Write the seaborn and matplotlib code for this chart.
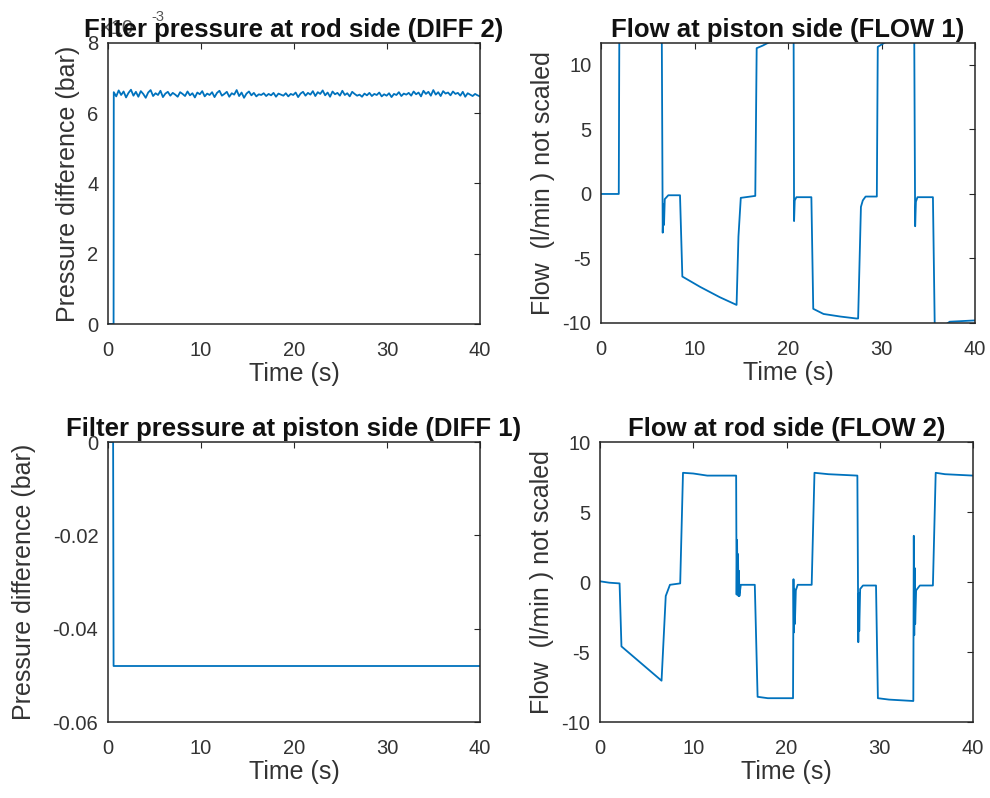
import numpy as np
import pandas as pd
import matplotlib
matplotlib.use("Agg")
import matplotlib.pyplot as plt
import seaborn as sns

# ---------------- data ----------------
# DIFF 2 : filter pressure at rod side (bar)
diff2_step_time = [0.0, 0.6]
diff2_step = [0.0, 0.0]
diff2_noise_e3 = [  # plateau values, in units of 1e-3 bar
    6.60, 6.48, 6.65, 6.52, 6.62, 6.45, 6.58, 6.67, 6.50, 6.61, 6.47, 6.63, 6.55, 6.44, 6.59,
    6.66, 6.49, 6.57, 6.52, 6.64, 6.46, 6.56, 6.61, 6.50, 6.58, 6.53, 6.47, 6.60, 6.55, 6.49,
    6.62, 6.51, 6.57, 6.45, 6.59, 6.54, 6.63, 6.48, 6.56, 6.52, 6.60, 6.46, 6.58, 6.64, 6.50,
    6.55, 6.61, 6.47, 6.57, 6.53, 6.66, 6.49, 6.59, 6.44, 6.56, 6.62, 6.51, 6.58, 6.48, 6.54,
    6.52, 6.57, 6.49, 6.55, 6.51, 6.58, 6.47, 6.56, 6.53, 6.50, 6.57, 6.48, 6.55, 6.52, 6.59,
    6.46, 6.56, 6.61, 6.50, 6.58, 6.53, 6.63, 6.49, 6.60, 6.55, 6.65, 6.51, 6.59, 6.47, 6.62,
    6.54, 6.58, 6.50, 6.64, 6.52, 6.57, 6.48, 6.61, 6.55, 6.50, 6.53, 6.47, 6.56, 6.51, 6.58,
    6.49, 6.55, 6.52, 6.59, 6.48, 6.54, 6.50, 6.57, 6.46, 6.55, 6.52, 6.60, 6.49, 6.56, 6.53,
    6.58, 6.50, 6.62, 6.54, 6.59, 6.48, 6.64, 6.55, 6.61, 6.50, 6.66, 6.53, 6.60, 6.49, 6.63,
    6.56, 6.59, 6.51, 6.62, 6.55, 6.58, 6.50, 6.61, 6.47, 6.57, 6.53, 6.49, 6.55, 6.51, 6.48,
]
diff2_noise_start, diff2_noise_end = 0.62, 40.0

# DIFF 1 : filter pressure at piston side (bar)
diff1_time = [0.0, 0.55, 0.6, 40.0]
diff1 = [0.0, 0.0, -0.048, -0.048]

# FLOW 1 : flow at piston side (l/min)
flow1_time = [0.0, 1.9, 1.96, 6.5, 6.6, 6.68, 6.74, 6.82, 7.2, 8.45, 8.7, 10.6, 12.7, 14.5,
              14.7, 14.95, 16.5, 16.65, 17.3, 18.1, 18.5, 20.6, 20.65, 20.72, 20.9, 22.5,
              22.7, 23.8, 25.6, 27.3, 27.5, 27.8, 28.0, 28.3, 29.5, 29.6, 30.5, 31.0, 33.5,
              33.6, 33.68, 33.85, 35.5, 35.7, 36.3, 37.0, 37.3, 40.0]
flow1 = [0.0, 0.0, 12.5, 12.5, -3.0, -0.8, -2.4, -0.4, -0.1, -0.1, -6.4, -7.2, -8.0, -8.6,
         -3.3, -0.3, -0.15, 11.3, 11.5, 11.8, 12.5, 12.5, -2.1, -0.5, -0.25, -0.25,
         -8.9, -9.3, -9.5, -9.65, -9.65, -1.0, -0.5, -0.2, -0.2, 11.4, 11.8, 12.5, 12.5,
         -2.5, -0.6, -0.25, -0.25, -10.6, -10.3, -10.05, -9.9, -9.8]

# FLOW 2 : flow at rod side (l/min)
flow2_time = [0.0, 1.0, 2.1, 2.3, 6.6, 7.05, 7.5, 8.6, 8.9, 10.0, 11.5, 14.6,
              14.65, 14.7, 14.75, 14.8, 14.85, 14.9, 14.95, 15.1, 16.6, 16.9, 18.0, 20.7,
              20.75, 20.8, 20.85, 20.9, 21.0, 21.2, 22.7, 23.0, 24.5, 27.6,
              27.7, 27.75, 27.8, 27.9, 28.2, 29.6, 29.8, 31.0, 33.6,
              33.65, 33.7, 33.75, 33.8, 33.9, 34.3, 35.7, 36.0, 37.0, 40.0]
flow2 = [0.05, -0.05, -0.1, -4.6, -7.05, -1.0, -0.2, -0.1, 7.8, 7.75, 7.6, 7.6,
         -0.9, 3.0, -0.8, 2.0, -1.0, 0.8, -1.0, -0.2, -0.2, -8.2, -8.3, -8.3,
         0.2, -3.6, -0.5, -3.0, -0.6, -0.2, -0.2, 7.8, 7.7, 7.6,
         -4.3, -0.8, -3.5, -0.5, -0.25, -0.25, -8.3, -8.4, -8.5,
         3.3, -3.8, 1.0, -3.0, -0.6, -0.25, -0.25, 7.8, 7.7, 7.6]

# ---------------- style ----------------
sns.set_theme(style="white")
plt.rcParams["font.family"] = ["Liberation Sans", "DejaVu Sans"]
plt.rcParams["axes.unicode_minus"] = False

LINE = "#0072BD"
AX = "#262626"
TXT = "#333333"

fig = plt.figure(figsize=(9.9, 7.98), dpi=100)
W, H = 990, 798


def add_ax(l, t, r, b):
    return fig.add_axes([l / W, 1 - b / H, (r - l) / W, (b - t) / H])


ax_tl = add_ax(108, 43, 480, 324)
ax_tr = add_ax(601, 43, 975, 323)
ax_bl = add_ax(108, 442, 480, 722)
ax_br = add_ax(600, 442, 973, 722)

# data frames
diff2_t = diff2_step_time + list(np.linspace(diff2_noise_start, diff2_noise_end, len(diff2_noise_e3)))
diff2_v = diff2_step + [v * 1e-3 for v in diff2_noise_e3]
df_d2 = pd.DataFrame({"t": diff2_t, "p": np.array(diff2_v) * 1e3})
df_d1 = pd.DataFrame({"t": diff1_time, "p": diff1})
df_f1 = pd.DataFrame({"t": flow1_time, "q": flow1})
df_f2 = pd.DataFrame({"t": flow2_time, "q": flow2})

kw = dict(color=LINE, linewidth=1.3, estimator=None, sort=False)
sns.lineplot(data=df_d2, x="t", y="p", ax=ax_tl, **kw)
sns.lineplot(data=df_f1, x="t", y="q", ax=ax_tr, **kw)
sns.lineplot(data=df_d1, x="t", y="p", ax=ax_bl, **kw)
sns.lineplot(data=df_f2, x="t", y="q", ax=ax_br, **kw)


def style(ax, title, ylabel, ylim, yticks, yticklabels, ylabelpad=5):
    ax.set_xlim(0, 40)
    ax.set_xticks([0, 10, 20, 30, 40])
    ax.set_ylim(*ylim)
    ax.set_yticks(yticks)
    ax.set_yticklabels(yticklabels)
    ax.set_title(title, fontsize=18.5, fontweight="bold", pad=4, color="#111111")
    ax.set_xlabel("Time (s)", fontsize=18, labelpad=2, color=TXT)
    ax.set_ylabel(ylabel, fontsize=18, labelpad=ylabelpad, color=TXT)
    ax.tick_params(axis="both", direction="in", top=True, right=True, length=4,
                   width=0.8, color=AX, labelsize=14.5, labelcolor=TXT)
    ax.tick_params(axis="x", pad=12)
    ax.tick_params(axis="y", pad=7)
    for s in ax.spines.values():
        s.set_color(AX)
        s.set_linewidth(1.1)
        s.set_visible(True)
    ax.set_facecolor("white")


style(ax_tl, "Filter pressure at rod side (DIFF 2)", "Pressure difference (bar)",
      (0, 8), [0, 2, 4, 6, 8], ["0", "2", "4", "6", "8"])
style(ax_tr, "Flow at piston side (FLOW 1)", "Flow  (l/min ) not scaled",
      (-10, 11.7), [-10, -5, 0, 5, 10], ["-10", "-5", "0", "5", "10"])
style(ax_bl, "Filter pressure at piston side (DIFF 1)", "Pressure difference (bar)",
      (-0.06, 0), [-0.06, -0.04, -0.02, 0], ["-0.06", "-0.04", "-0.02", "0"], ylabelpad=12)
style(ax_br, "Flow at rod side (FLOW 2)", "Flow  (l/min ) not scaled",
      (-10, 10), [-10, -5, 0, 5, 10], ["-10", "-5", "0", "5", "10"])

# MATLAB-style exponent label for the top-left axis (drawn beneath the title)
fig.text(100 / W, 1 - 34 / H, "×10", fontsize=14.5, color="#555555", zorder=-1)
fig.text(151 / W, 1 - 21 / H, "-3", fontsize=10.5, color="#555555", zorder=-1)

fig.savefig("out.png", dpi=100, facecolor="white")
